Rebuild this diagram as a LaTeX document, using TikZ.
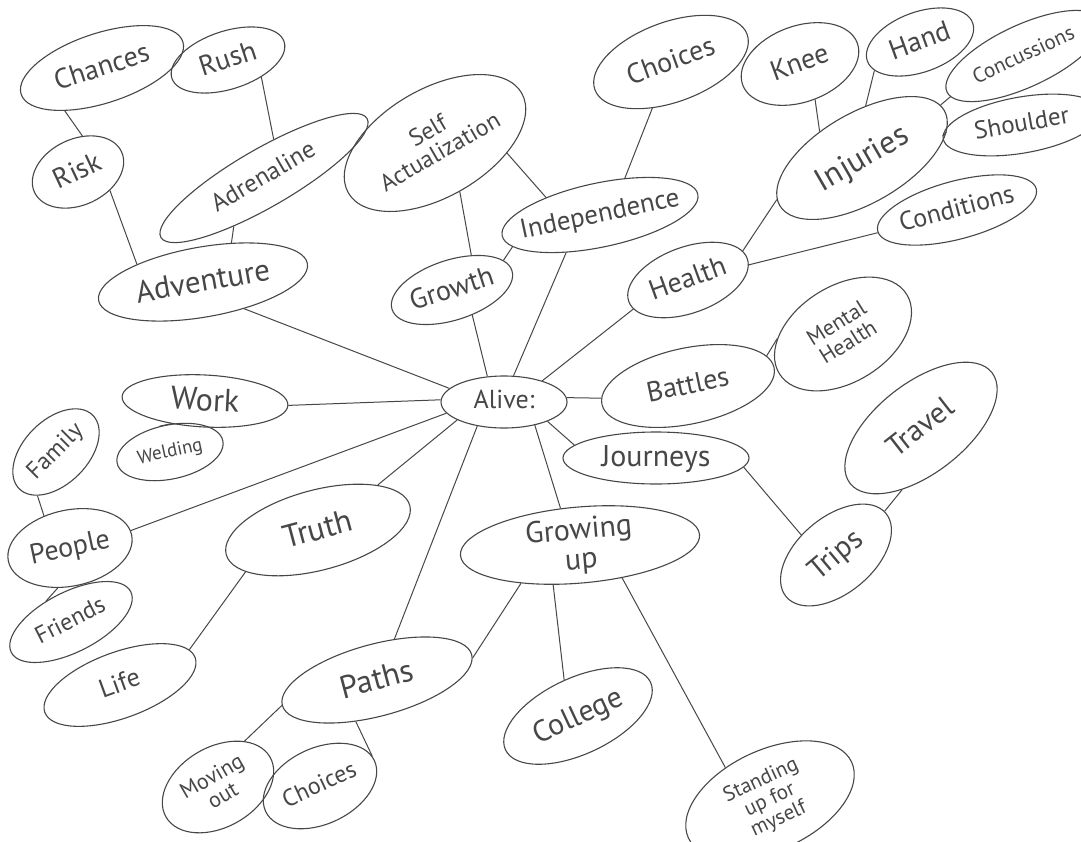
\documentclass[tikz,border=0pt]{standalone}
\usepackage{fontspec}
\newfontfamily\hand{PT Sans}
\usetikzlibrary{shapes.geometric}
\definecolor{ink}{HTML}{474747}
\newcommand\tx[1]{\makebox[0pt]{\raisebox{-0.3em}[0pt][0pt]{\begin{tabular}{@{}c@{}}#1\end{tabular}}}}
\newcommand\fs[1]{\hand\fontsize{#1}{#1}\selectfont}
\newcommand\bub[8]{\node[bub,minimum width=#4pt,minimum height=#5pt,rotate=#6,font=\fs{#8}] (#1) at (#2,#3) {\tx{#7}};}
\begin{document}
\begin{tikzpicture}[x=1pt,y=-1pt,
  bub/.style={draw=ink, line width=1.1pt, ellipse, inner sep=0pt, text=ink},
  link/.style={draw=ink, line width=1pt}]
\useasboundingbox (0,0) rectangle (1081,841);
\fill[white] (0,0) rectangle (1081,841);
\clip (0,0) rectangle (1081,841);
% nodes
\bub{chances}{102}{68}{170}{70}{18}{Chances}{28}
\bub{rush}{228}{60}{118}{58}{18}{Rush}{28}
\bub{risk}{78}{172}{96}{66}{25}{Risk}{28}
\bub{adrenaline}{264}{178}{238}{58}{30}{Adrenaline}{25}
\bub{adventure}{203}{282}{212}{70}{10}{Adventure}{31}
\bub{selfact}{435}{143}{200}{108}{30}{Self\\Actualization}{24}
\bub{choicesA}{671}{62}{162}{80}{20}{Choices}{28}
\bub{knee}{800}{64}{122}{76}{20}{Knee}{28}
\bub{hand}{920}{42}{112}{60}{20}{Hand}{28}
\bub{conc}{1024}{56}{170}{62}{25}{Concussions}{21}
\bub{shoulder}{1022}{125}{160}{56}{10}{Shoulder}{25}
\bub{injuries}{862}{158}{190}{90}{30}{Injuries}{32}
\bub{conditions}{957}{210}{164}{58}{15}{Conditions}{26}
\bub{indep}{600}{215}{200}{64}{12}{Independence}{27}
\bub{growth}{452}{290}{126}{60}{18}{Growth}{28}
\bub{health}{688}{280}{126}{66}{20}{Health}{28}
\bub{mental}{843}{334}{150}{96}{32}{Mental\\Health}{22}
\bub{battles}{688}{386}{176}{76}{12}{Battles}{28}
\bub{alive}{504}{402}{126}{52}{0}{Alive:}{26}
\bub{work}{205}{401}{166}{52}{-3}{Work}{32}
\bub{welding}{170}{452}{108}{54}{12}{Welding}{19}
\bub{family}{56}{452}{104}{64}{45}{Family}{24}
\bub{people}{70}{548}{126}{76}{12}{People}{28}
\bub{friends}{71}{622}{134}{60}{27}{Friends}{24}
\bub{truth}{318}{530}{190}{80}{15}{Truth}{32}
\bub{life}{120}{685}{160}{66}{20}{Life}{26}
\bub{journeys}{656}{458}{186}{52}{0}{Journeys}{30}
\bub{travel}{921}{428}{180}{90}{38}{Travel}{30}
\bub{trips}{836}{555}{130}{76}{40}{Trips}{30}
\bub{growing}{580}{545}{240}{76}{5}{Growing\\up}{30}
\bub{paths}{377}{680}{196}{72}{15}{Paths}{32}
\bub{college}{578}{716}{160}{76}{25}{College}{30}
\bub{moving}{218}{787}{120}{80}{30}{Moving\\out}{22}
\bub{choicesB}{320}{786}{120}{76}{25}{Choices}{24}
\bub{standing}{770}{800}{180}{100}{25}{Standing\\up for\\myself}{21}
% connectors
\draw[link] (chances.211) -- (risk.58);
\draw[link] (rush.-45) -- (adrenaline.46);
\draw[link] (risk.-55) -- (adventure.155);
\draw[link] (adrenaline.208) -- (adventure.44);
\draw[link] (adventure.-43) -- (alive.166);
\draw[link] (selfact.-93) -- (growth.43);
\draw[link] (selfact.-38) -- (indep.150);
\draw[link] (growth.12) -- (indep.188);
\draw[link] (growth.-69) -- (alive.123);
\draw[link] (indep.216) -- (alive.70);
\draw[link] (choicesA.228) -- (indep.44);
\draw[link] (knee.-87) -- (injuries.118);
\draw[link] (hand.192) -- (injuries.56);
\draw[link] (conc.184) -- (injuries.4);
\draw[link] (shoulder.178) -- (injuries.-13);
\draw[link] (injuries.176) -- (health.8);
\draw[link] (conditions.181) -- (health.-6);
\draw[link] (health.188) -- (alive.29);
\draw[link] (mental.152) -- (battles.9);
\draw[link] (battles.176) -- (alive.4);
\draw[link] (work.0) -- (alive.178);
\draw[link] (work.217) -- (welding.100);
\draw[link] (family.202) -- (people.117);
\draw[link] (people.241) -- (friends.113);
\draw[link] (people.4) -- (alive.191);
\draw[link] (truth.22) -- (alive.201);
\draw[link] (truth.195) -- (life.7);
\draw[link] (alive.222) -- (paths.52);
\draw[link] (alive.-37) -- (growing.113);
\draw[link] (alive.-24) -- (journeys.171);
\draw[link] (journeys.-6) -- (trips.110);
\draw[link] (trips.2) -- (travel.215);
\draw[link] (growing.208) -- (paths.-2);
\draw[link] (growing.231) -- (college.86);
\draw[link] (growing.-43) -- (standing.119);
\draw[link] (paths.180) -- (moving.30);
\draw[link] (paths.228) -- (choicesB.5);
\end{tikzpicture}
\end{document}
